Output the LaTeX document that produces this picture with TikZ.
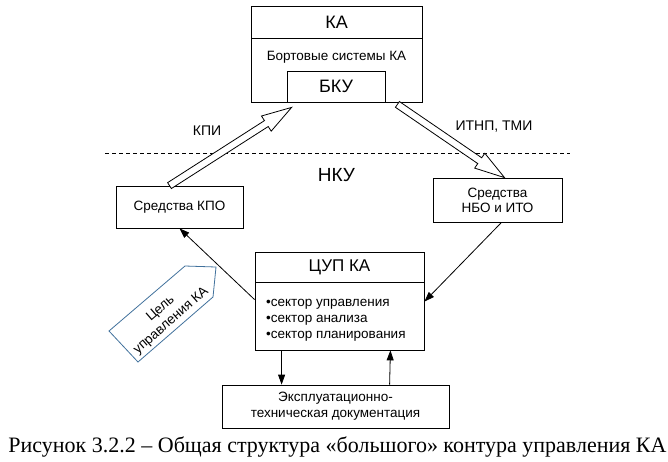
\documentclass[tikz,border=0pt]{standalone}
\usepackage{fontspec}
\setmainfont{Liberation Sans}
\newfontfamily\capfont{Liberation Serif}
\usetikzlibrary{arrows.meta,calc}
\definecolor{tagblue}{RGB}{65,113,156}

% hollow (outlined) block arrow from #1 to #2
\newcommand{\hollowarrow}[2]{%
  \coordinate (hb) at ($(#2)!30pt!(#1)$);
  \draw[line width=.8pt,fill=white] ($(#1)!3.5pt!90:(#2)$) -- ($(hb)!3.5pt!90:(#2)$)
    -- ($(hb)!9pt!90:(#2)$) -- (#2) -- ($(hb)!9pt!-90:(#2)$)
    -- ($(hb)!3.5pt!-90:(#2)$) -- ($(#1)!3.5pt!-90:(#2)$) -- cycle;}

\begin{document}
\begin{tikzpicture}[x=1pt,y=-1pt,
  box/.style={draw,line width=.8pt,inner sep=0pt,align=center},
  lbl/.style={draw=none,inner sep=0pt,align=center},
  arr/.style={line width=.8pt,-{Triangle[length=10pt,width=7pt]}}]
  \useasboundingbox (0,0) rectangle (668,461);

  % spacecraft
  \node[box,minimum width=171pt,minimum height=32pt,font=\fontsize{18}{20}\selectfont] (kaTop) at (336.5,22) {КА};
  \node[box,minimum width=171pt,minimum height=64pt] (kaBody) at (336.5,70) {};
  \node[lbl,font=\fontsize{13.5}{15}\selectfont] (onboard) at (336.5,57) {Бортовые системы КА};
  \node[box,minimum width=98pt,minimum height=31pt,font=\fontsize{18}{20}\selectfont] (bku) at (336,86.5) {БКУ};

  % ground segment
  \coordinate (dashL) at (105,153);
  \coordinate (dashR) at (570,153);
  \draw[line width=.8pt,dash pattern=on 4pt off 3pt] (dashL) -- (dashR);
  \node[lbl,font=\fontsize{19}{21}\selectfont] (nku) at (336.5,175) {НКУ};

  \node[box,minimum width=127pt,minimum height=42pt,font=\fontsize{13.5}{15}\selectfont] (kpo) at (179.5,207) {Средства КПО};
  \node[box,minimum width=129pt,minimum height=44pt,font=\fontsize{13.5}{15}\selectfont] (nbo) at (497.5,200) {Средства\\НБО и ИТО};

  \node[lbl,font=\fontsize{14}{16}\selectfont] (kpiLbl) at (207,131) {КПИ};
  \node[lbl,font=\fontsize{14}{16}\selectfont] (itnpLbl) at (494,127) {ИТНП, ТМИ};

  \coordinate (kpiTail) at ($(kpo.north)+(-10,0)$);
  \coordinate (kpiTip) at ($(bku.south west)+(5,5)$);
  \coordinate (itnpTail) at ($(bku.south east)+(12,2)$);
  \coordinate (itnpTip) at ($(nbo.north)+(7,0)$);
  \hollowarrow{kpiTail}{kpiTip}
  \hollowarrow{itnpTail}{itnpTip}

  % control centre
  \node[box,minimum width=169pt,minimum height=30pt,font=\fontsize{17}{19}\selectfont] (cupTop) at (339.5,267) {ЦУП КА};
  \node[box,minimum width=169pt,minimum height=68pt] (cupBody) at (339.5,316) {};
  \node[lbl,anchor=west,align=left,font=\fontsize{13.5}{16}\selectfont] (sectors) at (266,320)
    {•сектор управления\\•сектор анализа\\•сектор планирования};

  \node[box,minimum width=227pt,minimum height=43pt,font=\fontsize{13.5}{16}\selectfont] (docs) at (335.5,406.5)
    {Эксплуатационно-\\техническая документация};

  \draw[arr] ($(cupBody.north west)+(0,18)$) -- (kpo.south);
  \draw[arr] ($(nbo.south)+(4,0)$) -- ($(cupBody.north east)+(0,20)$);
  \draw[arr] ($(cupBody.south west)+(27,0)$) -- ($(docs.north west)+(60,0)$);
  \draw[arr] ($(docs.north west)+(168,0)$) -- ($(cupBody.south east)+(-34,0)$);

  % goal tag
  \draw[tagblue,line width=.8pt] (109,331) -- (138,362) -- (213,297) -- (216,267) -- (185,266) -- cycle;
  \node[lbl,rotate=41,font=\fontsize{13.5}{16}\selectfont] (goal) at (166,315) {Цель\\управления КА};

  \node[lbl,font=\capfont\fontsize{22}{24}\selectfont] (caption) at (337.5,447)
    {Рисунок 3.2.2 – Общая структура «большого» контура управления КА};
\end{tikzpicture}
\end{document}
